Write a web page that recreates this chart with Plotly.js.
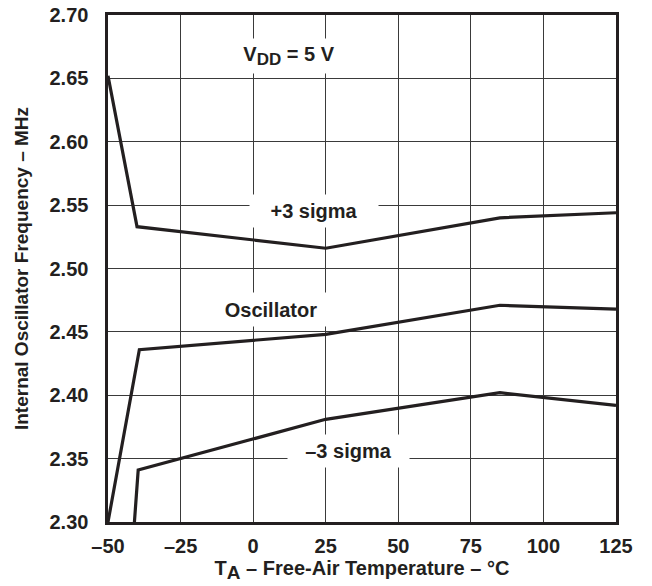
<!DOCTYPE html>
<html>
<head>
<meta charset="utf-8">
<script src="https://cdn.plot.ly/plotly-3.0.1.min.js"></script>
<style>html,body{margin:0;padding:0;background:#fff;}#chart{width:652px;height:586px;}</style>
</head>
<body>
<div id="chart"></div>
<script>
// Data
const plusSigmaT = [-50, -40, 25, 85, 125];
const plusSigmaF = [2.652, 2.533, 2.516, 2.540, 2.544];
const oscT = [-50, -39.2, 25, 85, 125];
const oscF = [2.300, 2.436, 2.448, 2.471, 2.468];
const minusSigmaT = [-40.9, -39.6, 25, 85, 125];
const minusSigmaF = [2.300, 2.341, 2.381, 2.402, 2.392];

const xTickVals = [-50, -25, 0, 25, 50, 75, 100, 125];
const xTickText = ['–50', '–25', '0', '25', '50', '75', '100', '125'];
const yTickVals = [2.30, 2.35, 2.40, 2.45, 2.50, 2.55, 2.60, 2.65, 2.70];
const yTickText = ['2.30', '2.35', '2.40', '2.45', '2.50', '2.55', '2.60', '2.65', '2.70'];

const INK = '#231f20';
const FONT = '"Liberation Sans", Arial, Helvetica, sans-serif';

const lineStyle = {color: INK, width: 3.2};
const traces = [
  {x: plusSigmaT, y: plusSigmaF, name: '+3 sigma', mode: 'lines', line: lineStyle},
  {x: oscT, y: oscF, name: 'Oscillator', mode: 'lines', line: lineStyle},
  {x: minusSigmaT, y: minusSigmaF, name: '–3 sigma', mode: 'lines', line: lineStyle}
];

const labelFont = {family: FONT, size: 20, color: INK, weight: 'bold'};
function boxLabel(text, x, y, w, h) {
  return {text: text, x: x, y: y, xref: 'x', yref: 'y', showarrow: false,
    bgcolor: '#ffffff', width: w, height: h, borderpad: 0, font: labelFont,
    xanchor: 'center', yanchor: 'middle'};
}

const layout = {
  width: 652, height: 586,
  margin: {l: 108, r: 36, t: 15, b: 64},
  paper_bgcolor: '#ffffff', plot_bgcolor: '#ffffff',
  showlegend: false,
  font: {family: FONT, color: INK},
  xaxis: {
    range: [-50, 125], tickvals: xTickVals, ticktext: xTickText,
    showgrid: true, gridcolor: '#3a3a3a', gridwidth: 1.2, zeroline: false,
    showline: true, mirror: true, linecolor: INK, linewidth: 2.6,
    ticks: '', ticklabelstandoff: 4,
    tickfont: {family: FONT, size: 20, color: INK, weight: 'bold'},
    title: {text: 'T<sub><span style="font-size:19px">A</span></sub> – Free-Air Temperature – °C', standoff: 4,
      font: {family: FONT, size: 20, color: INK, weight: 'bold'}}
  },
  yaxis: {
    range: [2.30, 2.70], tickvals: yTickVals, ticktext: yTickText,
    showgrid: true, gridcolor: '#3a3a3a', gridwidth: 1.2, zeroline: false,
    showline: true, mirror: true, linecolor: INK, linewidth: 2.6,
    ticks: '', ticklabelstandoff: 13,
    tickfont: {family: FONT, size: 20, color: INK, weight: 'bold'},
    title: {text: 'Internal Oscillator Frequency – MHz', standoff: 16,
      font: {family: FONT, size: 19, color: INK, weight: 'bold'}}
  },
  annotations: [
    boxLabel('V<sub><span style="font-size:17px">DD</span></sub> = 5 V', 12.2, 2.668, 130, 34),
    boxLabel('+3 sigma', 21, 2.545, 128, 32),
    boxLabel('Oscillator', 6.3, 2.468, 130, 33),
    boxLabel('–3 sigma', 32.8, 2.356, 121, 32)
  ]
};

Plotly.newPlot('chart', traces, layout, {displayModeBar: false, staticPlot: true});
</script>
</body>
</html>
